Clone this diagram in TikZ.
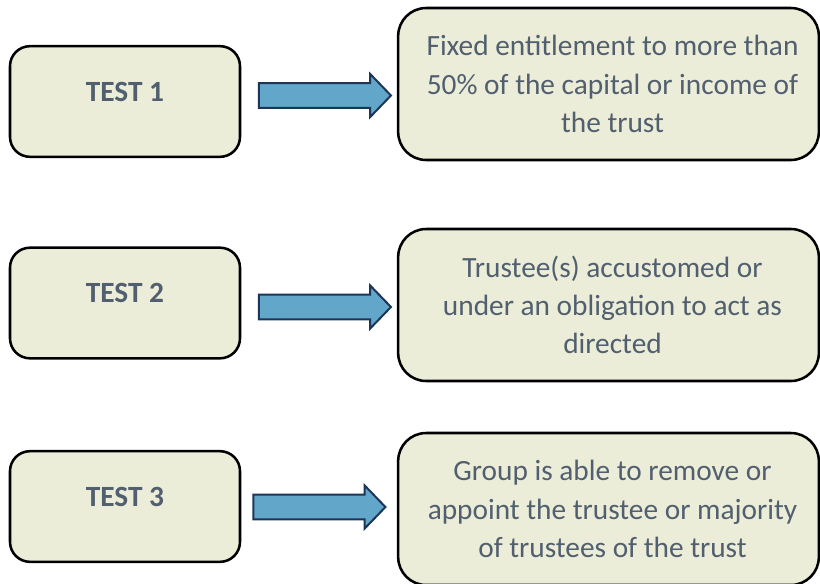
\documentclass[tikz,border=0pt]{standalone}
\usepackage{fontspec}
\setmainfont{Carlito}
\usetikzlibrary{positioning,shapes.arrows}

\definecolor{boxfill}{HTML}{EBEDD9}
\definecolor{boxtext}{HTML}{515F6E}
\definecolor{arrowfill}{HTML}{62A7C9}
\definecolor{arrowline}{HTML}{1D3557}

\tikzset{
    testbox/.style={draw=black, line width=1.9pt, fill=boxfill,
        rounded corners=15pt, minimum width=172.5pt, minimum height=83pt},
    testlabel/.style={text=boxtext, font=\fontsize{22}{28}\selectfont\bfseries,
        yshift=7.5pt},
    rulebox/.style={draw=black, line width=1.9pt, fill=boxfill,
        rounded corners=21pt, minimum width=315.5pt, minimum height=114pt},
    rulelabel/.style={text=boxtext, align=center, xshift=3pt,
        font=\fontsize{22}{28.6}\selectfont},
    bigarrow/.style={single arrow, draw=arrowline, line width=1.5pt,
        fill=arrowfill, inner xsep=0pt, inner ysep=8.5pt,
        minimum height=99pt, single arrow head extend=7pt,
        single arrow tip angle=92}
}

\begin{document}
\begin{tikzpicture}[x=0.75pt,y=-0.75pt]

    \useasboundingbox (0,0) rectangle (820,583);

    % Test 1
    \node[testbox, label={[testlabel]center:TEST 1}] (t1) at (125,101.5) {};
    \node[rulebox, label={[rulelabel]center:Fixed entitlement to more than\\
        50\% of the capital or income of\\the trust}] (r1) at (608.5,84) {};
    \node[bigarrow] (a1) at (319,95.5) {};

    % Test 2
    \node[testbox, label={[testlabel]center:TEST 2}] (t2) at (125,303) {};
    \node[rulebox, label={[rulelabel]center:Trustee(s) accustomed or\\
        under an obligation to act as\\directed}] (r2) at (608.5,305) {};
    \node[bigarrow] (a2) at (319,307) {};

    % Test 3
    \node[testbox, label={[testlabel]center:TEST 3}] (t3) at (125,506.5) {};
    \node[rulebox, label={[rulelabel]center:Group is able to remove or\\
        appoint the trustee or majority\\of trustees of the trust}] (r3) at (608.5,509) {};
    \node[bigarrow] (a3) at (313.5,507) {};

\end{tikzpicture}
\end{document}
